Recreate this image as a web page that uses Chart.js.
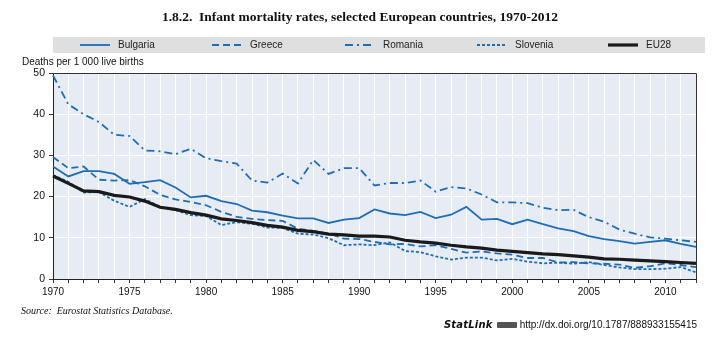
<!DOCTYPE html>
<html>
<head>
<meta charset="utf-8">
<script src="https://cdn.jsdelivr.net/npm/chart.js@4.4.1/dist/chart.umd.min.js"></script>
<style>
  html, body { margin: 0; padding: 0; background: #fff; width: 720px; height: 346px; overflow: hidden; }
  #wrap { position: relative; width: 720px; height: 346px; }
  #chart { position: absolute; left: 0; top: 0; }
  .title { position: absolute; top: 9px; left: 0; width: 720px; text-align: center;
           font: bold 13.5px 'Liberation Serif', 'DejaVu Serif', serif; color: #111; }
  .source { position: absolute; left: 21px; top: 305px; font: italic 10px 'Liberation Serif', serif; color: #111; }
  .statlink { position: absolute; right: 23px; top: 319px; font: 10px 'Liberation Sans Narrow', 'Liberation Sans', sans-serif; color: #111; white-space: nowrap; }
  .statlink b { font: bold italic 10px 'DejaVu Sans', sans-serif; letter-spacing: 0.2px; }
  .statlink .ico { display: inline-block; width: 20px; height: 6px; background: #555; vertical-align: middle; margin: 0 3px 0 4px; border-radius: 1px; }
</style>
</head>
<body>
<div id="wrap">
  <canvas id="chart" width="720" height="346"></canvas>
  <div class="title">1.8.2.&nbsp; Infant mortality rates, selected European countries, 1970-2012</div>
  <div class="source">Source:&nbsp; Eurostat Statistics Database.</div>
  <div class="statlink"><b>StatLink</b><span class="ico"></span>http://dx.doi.org/10.1787/888933155415</div>
</div>
<script>
// Years on the horizontal axis
const years = [1970, 1971, 1972, 1973, 1974, 1975, 1976, 1977, 1978, 1979,
               1980, 1981, 1982, 1983, 1984, 1985, 1986, 1987, 1988, 1989,
               1990, 1991, 1992, 1993, 1994, 1995, 1996, 1997, 1998, 1999,
               2000, 2001, 2002, 2003, 2004, 2005, 2006, 2007, 2008, 2009,
               2010, 2011, 2012];

// Infant deaths per 1 000 live births
const bulgaria = [27.3, 24.9, 26.2, 26.2, 25.5, 23.1, 23.5, 24.0, 22.2, 19.8,
                  20.2, 18.9, 18.2, 16.6, 16.2, 15.4, 14.7, 14.7, 13.6, 14.4,
                  14.8, 16.9, 15.9, 15.5, 16.3, 14.8, 15.6, 17.5, 14.4, 14.6,
                  13.3, 14.4, 13.3, 12.3, 11.6, 10.4, 9.7, 9.2, 8.6, 9.0,
                  9.4, 8.5, 7.8];
const greece   = [29.6, 26.9, 27.3, 24.1, 23.9, 24.0, 22.5, 20.4, 19.3, 18.7,
                  17.9, 16.3, 15.1, 14.6, 14.3, 14.1, 12.2, 11.7, 11.0, 9.8,
                  9.7, 9.0, 8.4, 8.5, 7.9, 8.2, 7.3, 6.4, 6.7, 6.2,
                  5.9, 5.1, 5.1, 4.0, 4.1, 3.8, 3.7, 3.5, 2.7, 3.1,
                  3.8, 3.4, 2.9];
const romania  = [49.4, 42.4, 40.0, 38.1, 35.0, 34.7, 31.2, 31.0, 30.3, 31.6,
                  29.3, 28.6, 28.0, 23.9, 23.4, 25.6, 23.2, 28.9, 25.5, 26.9,
                  26.9, 22.7, 23.3, 23.3, 23.9, 21.2, 22.3, 22.0, 20.5, 18.6,
                  18.6, 18.4, 17.3, 16.7, 16.8, 15.0, 13.9, 12.0, 11.0, 10.1,
                  9.8, 9.4, 9.0];
const slovenia = [25.2, 23.6, 21.0, 21.1, 19.0, 17.5, 19.4, 17.5, 16.7, 15.5,
                  15.3, 13.1, 13.8, 13.4, 12.5, 12.4, 11.0, 10.8, 9.9, 8.2,
                  8.4, 8.2, 8.9, 6.8, 6.5, 5.5, 4.7, 5.2, 5.2, 4.5,
                  4.9, 4.2, 3.8, 4.0, 3.7, 4.1, 3.4, 2.8, 2.4, 2.4,
                  2.5, 2.9, 1.6];
const eu28     = [25.0, 23.2, 21.4, 21.2, 20.3, 19.9, 18.9, 17.4, 16.9, 16.1,
                  15.5, 14.6, 14.2, 13.7, 13.0, 12.6, 11.8, 11.5, 10.9, 10.7,
                  10.4, 10.4, 10.2, 9.4, 9.0, 8.7, 8.2, 7.8, 7.5, 7.0,
                  6.7, 6.4, 6.1, 5.9, 5.6, 5.3, 4.9, 4.8, 4.6, 4.4,
                  4.2, 4.0, 3.8];

const yTicks = [0, 10, 20, 30, 40, 50];
const yAxisLabel = 'Deaths per 1 000 live births';

const BLUE = '#1f6db3';
const NARROW = "'Liberation Sans Narrow', 'Arial Narrow', 'Liberation Sans', sans-serif";

const series = [
  { label: 'Bulgaria', data: bulgaria, color: BLUE, width: 1.8, dash: [] , order: 4 },
  { label: 'Greece',   data: greece,   color: BLUE, width: 1.8, dash: [7, 4], order: 3 },
  { label: 'Romania',  data: romania,  color: BLUE, width: 1.8, dash: [8, 4, 2, 4], order: 2 },
  { label: 'Slovenia', data: slovenia, color: BLUE, width: 1.8, dash: [3, 2], order: 1 },
  { label: 'EU28',     data: eu28,     color: '#1a1a1a', width: 3.2, dash: [], order: 0 }
];

// Shaded plot area, frame, legend band and axis caption
const decor = {
  id: 'decor',
  beforeDraw(chart) {
    const { ctx, chartArea: a } = chart;
    ctx.save();
    ctx.fillStyle = '#e6ebf4';
    ctx.fillRect(a.left, a.top, a.right - a.left, a.bottom - a.top);
    ctx.restore();
  },
  afterDraw(chart) {
    const { ctx, chartArea: a } = chart;
    ctx.save();
    // frame top and right
    ctx.strokeStyle = '#333';
    ctx.lineWidth = 1;
    ctx.beginPath();
    ctx.moveTo(a.left, a.top + 0.5);
    ctx.lineTo(a.right + 0.5, a.top + 0.5);
    ctx.lineTo(a.right + 0.5, a.bottom);
    ctx.stroke();

    // legend band
    ctx.fillStyle = '#dedfe0';
    ctx.fillRect(53, 37, 652, 16);
    const starts = [80, 212, 345, 477, 608];
    ctx.font = '10px ' + NARROW;
    ctx.textBaseline = 'middle';
    series.forEach((s, i) => {
      const x = starts[i];
      ctx.strokeStyle = s.color;
      ctx.lineWidth = s.width;
      ctx.setLineDash(s.dash);
      ctx.beginPath();
      ctx.moveTo(x, 45);
      ctx.lineTo(x + 30, 45);
      ctx.stroke();
      ctx.setLineDash([]);
      ctx.fillStyle = '#222';
      ctx.fillText(s.label, x + 38, 45.5);
    });

    // axis caption
    ctx.fillStyle = '#111';
    ctx.font = '10px ' + NARROW;
    ctx.textBaseline = 'alphabetic';
    ctx.fillText(yAxisLabel, 22, 65);
    ctx.restore();
  }
};

new Chart(document.getElementById('chart'), {
  type: 'line',
  data: {
    labels: years,
    datasets: series.map(s => ({
      label: s.label,
      data: s.data,
      borderColor: s.color,
      backgroundColor: s.color,
      borderWidth: s.width,
      borderDash: s.dash,
      pointRadius: 0,
      tension: 0,
      fill: false,
      order: s.order
    }))
  },
  options: {
    responsive: false,
    animation: false,
    layout: { padding: { left: 0, top: 73, right: 24, bottom: 0 } },
    plugins: { legend: { display: false }, tooltip: { enabled: false }, title: { display: false } },
    scales: {
      x: {
        type: 'category',
        offset: false,
        grid: { color: '#ffffff', lineWidth: 1, tickColor: '#333', tickLength: 4, drawTicks: true },
        border: { color: '#222', width: 1 },
        ticks: {
          autoSkip: false, maxRotation: 0, minRotation: 0, padding: 3,
          color: '#111', font: { family: NARROW, size: 10 },
          callback: function (v, i) { const y = years[i]; return y % 5 === 0 ? String(y) : ''; }
        },
        afterFit(scale) { scale.height = 67; }
      },
      y: {
        min: 0, max: 50,
        afterBuildTicks(scale) { scale.ticks = yTicks.map(v => ({ value: v })); },
        grid: { color: '#ffffff', lineWidth: 1, tickColor: '#333', tickLength: 4 },
        border: { color: '#222', width: 1 },
        ticks: { padding: 4, color: '#111', font: { family: NARROW, size: 10.5 } },
        afterFit(scale) { scale.width = 53; }
      }
    }
  },
  plugins: [decor]
});
</script>
</body>
</html>
